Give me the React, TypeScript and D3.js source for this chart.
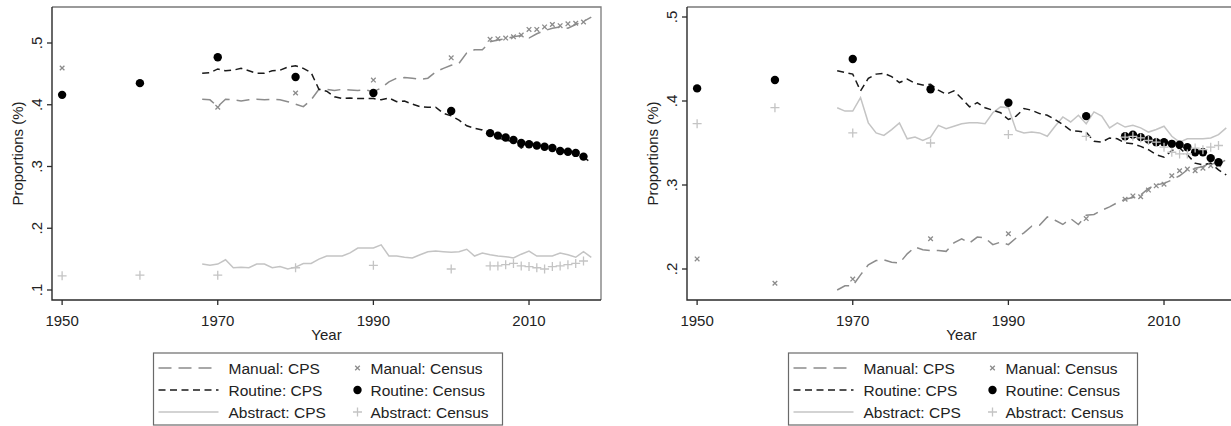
import * as d3 from "d3";

// CPS series run 1968-2018, census points at decennial years then 2005-2017
const cpsYears = d3.range(1968, 2019);
const censusYears = [1950, 1960, 1970, 1980, 1990, 2000, 2005, 2006, 2007, 2008, 2009, 2010, 2011, 2012, 2013, 2014, 2015, 2016, 2017];

// left panel
const manualCpsA = [
  0.409, 0.408, 0.397, 0.409, 0.408, 0.406, 0.408, 0.409, 0.408, 0.409, 0.408, 0.405, 0.401, 0.397, 0.408,
  0.425, 0.425, 0.423, 0.425, 0.424, 0.423, 0.424, 0.421, 0.427, 0.437, 0.443, 0.444, 0.443, 0.441, 0.443,
  0.453, 0.459, 0.464, 0.467, 0.484, 0.489, 0.489, 0.502, 0.505, 0.507, 0.51, 0.512, 0.508, 0.515, 0.52,
  0.524, 0.526, 0.524, 0.53, 0.535, 0.542,
];
const routineCpsA = [
  0.451, 0.452, 0.458, 0.455, 0.456, 0.459, 0.455, 0.451, 0.451, 0.455, 0.456, 0.461, 0.463, 0.459, 0.452,
  0.425, 0.422, 0.413, 0.41, 0.411, 0.41, 0.41, 0.41, 0.408, 0.411, 0.405, 0.406, 0.401, 0.397, 0.396,
  0.396, 0.386, 0.382, 0.375, 0.366, 0.362, 0.359, 0.351, 0.346, 0.343, 0.34, 0.33, 0.338, 0.335, 0.332,
  0.33, 0.327, 0.324, 0.32, 0.315, 0.306,
];
const abstractCpsA = [
  0.142, 0.14, 0.142, 0.149, 0.136, 0.137, 0.136, 0.142, 0.142, 0.136, 0.138, 0.134, 0.137, 0.143, 0.143,
  0.15, 0.155, 0.155, 0.155, 0.16, 0.168, 0.168, 0.168, 0.173, 0.155, 0.155, 0.153, 0.152, 0.157, 0.162,
  0.163, 0.162, 0.161, 0.162, 0.166, 0.155, 0.16, 0.157, 0.155, 0.154, 0.152, 0.158, 0.163, 0.155, 0.155,
  0.155, 0.16, 0.157, 0.153, 0.162, 0.153,
];
const manualCensusA = [
  0.4595, null, 0.396, 0.419, 0.44, 0.476, 0.506, 0.507, 0.508, 0.51, 0.513, 0.522, 0.522, 0.526, 0.53,
  0.528, 0.531, 0.532, 0.534,
];
const routineCensusA = [
  0.416, 0.435, 0.477, 0.445, 0.419, 0.39, 0.354, 0.35, 0.347, 0.343, 0.338, 0.336, 0.334, 0.332, 0.33,
  0.325, 0.324, 0.322, 0.316,
];
const abstractCensusA = [
  0.123, 0.124, 0.124, 0.136, 0.14, 0.134, 0.139, 0.139, 0.141, 0.143, 0.139, 0.138, 0.136, 0.134, 0.138,
  0.139, 0.141, 0.143, 0.147,
];

// right panel
const manualCpsB = [
  0.175, 0.18, 0.18, 0.193, 0.205, 0.21, 0.211, 0.208, 0.207, 0.218, 0.226, 0.223, 0.222, 0.222, 0.221,
  0.231, 0.236, 0.231, 0.238, 0.237, 0.229, 0.232, 0.229, 0.237, 0.243, 0.251, 0.252, 0.262, 0.258, 0.253,
  0.26, 0.253, 0.264, 0.265, 0.27, 0.274, 0.279, 0.283, 0.285, 0.288, 0.296, 0.3, 0.302, 0.306, 0.311,
  0.318, 0.32, 0.322, 0.326, 0.325, 0.33,
];
const routineCpsB = [
  0.436, 0.434, 0.432, 0.412, 0.427, 0.432, 0.433, 0.429, 0.422, 0.426, 0.421, 0.419, 0.42, 0.413, 0.408,
  0.412, 0.403, 0.393, 0.398, 0.392, 0.389, 0.386, 0.378, 0.382, 0.391, 0.389, 0.385, 0.383, 0.378, 0.372,
  0.365, 0.364, 0.363, 0.352, 0.351, 0.356, 0.355, 0.35, 0.349, 0.346, 0.342, 0.336, 0.333, 0.341, 0.344,
  0.336, 0.326, 0.324, 0.326, 0.318, 0.312,
];
const abstractCpsB = [
  0.392, 0.388, 0.388, 0.404, 0.374, 0.362, 0.359, 0.366, 0.374, 0.355, 0.357, 0.353, 0.357, 0.371, 0.367,
  0.37, 0.373, 0.374, 0.374, 0.373, 0.386, 0.393, 0.392, 0.365, 0.362, 0.363, 0.362, 0.358, 0.37, 0.381,
  0.375, 0.383, 0.373, 0.387, 0.382, 0.368, 0.374, 0.369, 0.371, 0.368, 0.363, 0.366, 0.37, 0.358, 0.351,
  0.355, 0.355, 0.355, 0.356, 0.36, 0.368,
];
const manualCensusB = [
  0.212, 0.183, 0.188, 0.236, 0.242, 0.26, 0.283, 0.287, 0.286, 0.294, 0.299, 0.301, 0.311, 0.317, 0.319,
  0.317, 0.32, 0.323, 0.324,
];
const routineCensusB = [
  0.415, 0.425, 0.45, 0.414, 0.398, 0.382, 0.358, 0.36, 0.357, 0.354, 0.351, 0.351, 0.349, 0.348, 0.345,
  0.339, 0.339, 0.332, 0.327,
];
const abstractCensusB = [
  0.373, 0.392, 0.362, 0.35, 0.36, 0.358, 0.357, 0.358, 0.356, 0.353, 0.351, 0.345, 0.339, 0.337, 0.337,
  0.344, 0.342, 0.345, 0.347,
];

const xTicks = [1950, 1970, 1990, 2010];
const yTicksA = [0.1, 0.2, 0.3, 0.4, 0.5];
const yTicksB = [0.2, 0.3, 0.4, 0.5];

const legendLines = ["Manual: CPS", "Routine: CPS", "Abstract: CPS"];
const legendMarks = ["Manual: Census", "Routine: Census", "Abstract: Census"];

const FONT = "Liberation Sans, Arial, sans-serif";
const MANUAL = "#8c8c8c";
const ROUTINE = "#1a1a1a";
const ABSTRACT = "#c4c4c4";
const DASH_MANUAL = "13 7";
const DASH_ROUTINE = "7 4.5";

const fmt = (v: number) => d3.format(".1f")(v).replace(/^0/, "");

function Cross({ x, y, r, color }: { x: number; y: number; r: number; color: string }) {
  return (
    <path
      d={`M${x - r},${y - r}L${x + r},${y + r}M${x - r},${y + r}L${x + r},${y - r}`}
      stroke={color}
      strokeWidth={1.3}
    />
  );
}

function Plus({ x, y, r, color }: { x: number; y: number; r: number; color: string }) {
  return (
    <path d={`M${x - r},${y}L${x + r},${y}M${x},${y - r}L${x},${y + r}`} stroke={color} strokeWidth={1.3} />
  );
}

interface PanelProps {
  left: number;
  yDomain: [number, number];
  yRange: [number, number];
  yTicks: number[];
  manualCps: number[];
  routineCps: number[];
  abstractCps: number[];
  manualCensus: (number | null)[];
  routineCensus: number[];
  abstractCensus: number[];
}

function Panel(p: PanelProps) {
  const top = 7;
  const bottom = 300;
  const right = p.left + 549;
  const x = d3.scaleLinear().domain([1948.7, 2019.25]).range([p.left, right]);
  const y = d3.scaleLinear().domain(p.yDomain).range(p.yRange);

  const line = (vals: number[]) =>
    d3
      .line<number>()
      .x((_, i) => x(cpsYears[i]))
      .y((d) => y(d))(vals) ?? "";

  const cx = (p.left + right) / 2;
  const legX = cx - 173;

  return (
    <g fontFamily={FONT}>
      {/* frame */}
      <path d={`M${p.left},${top}H${right}V${bottom}`} fill="none" stroke="#7a7a7a" strokeWidth={1.3} />

      {/* CPS lines */}
      <path d={line(p.abstractCps)} fill="none" stroke={ABSTRACT} strokeWidth={1.5} />
      <path d={line(p.manualCps)} fill="none" stroke={MANUAL} strokeWidth={1.5} strokeDasharray={DASH_MANUAL} />
      <path d={line(p.routineCps)} fill="none" stroke={ROUTINE} strokeWidth={1.5} strokeDasharray={DASH_ROUTINE} />

      {/* census markers */}
      {p.manualCensus.map((v, i) =>
        v == null ? null : <Cross key={"m" + i} x={x(censusYears[i])} y={y(v)} r={2.3} color={MANUAL} />
      )}
      {p.routineCensus.map((v, i) => (
        <circle key={"r" + i} cx={x(censusYears[i])} cy={y(v)} r={4.2} fill="#000" />
      ))}
      {p.abstractCensus.map((v, i) => (
        <Plus key={"a" + i} x={x(censusYears[i])} y={y(v)} r={4.5} color={ABSTRACT} />
      ))}

      {/* axes */}
      <path d={`M${p.left},${top}V${bottom}H${right}`} fill="none" stroke="#2a2a2a" strokeWidth={1.4} />
      {p.yTicks.map((t) => (
        <g key={t}>
          <line x1={p.left - 5} x2={p.left} y1={y(t)} y2={y(t)} stroke="#2a2a2a" strokeWidth={1.3} />
          <text
            transform={`translate(${p.left - 10},${y(t)}) rotate(-90)`}
            textAnchor="middle"
            fontSize={15}
            fill="#222"
          >
            {fmt(t)}
          </text>
        </g>
      ))}
      {xTicks.map((t) => (
        <g key={t}>
          <line x1={x(t)} x2={x(t)} y1={bottom} y2={bottom + 5} stroke="#2a2a2a" strokeWidth={1.3} />
          <text x={x(t)} y={bottom + 26} textAnchor="middle" fontSize={15} fill="#222">
            {t}
          </text>
        </g>
      ))}
      <text x={cx} y={340} textAnchor="middle" fontSize={15} fill="#222">
        Year
      </text>
      <text
        transform={`translate(${p.left - 29},${(top + bottom) / 2}) rotate(-90)`}
        textAnchor="middle"
        fontSize={15}
        fill="#222"
      >
        Proportions (%)
      </text>

      {/* legend */}
      <rect x={legX} y={353} width={349} height={72} fill="#fff" stroke="#6a6a6a" strokeWidth={1.2} />
      {legendLines.map((name, i) => {
        const ly = 368 + i * 22;
        const stroke = [MANUAL, ROUTINE, ABSTRACT][i];
        const dash = [DASH_MANUAL, DASH_ROUTINE, undefined][i];
        return (
          <g key={name}>
            <line x1={legX + 5} x2={legX + 65} y1={ly} y2={ly} stroke={stroke} strokeWidth={1.5} strokeDasharray={dash} />
            <text x={legX + 75} y={ly + 5.5} fontSize={15.5} fill="#222">
              {name}
            </text>
          </g>
        );
      })}
      {legendMarks.map((name, i) => {
        const ly = 368 + i * 22;
        const mx = legX + 204;
        return (
          <g key={name}>
            {i === 0 && <Cross x={mx} y={ly} r={2.3} color={MANUAL} />}
            {i === 1 && <circle cx={mx} cy={ly} r={4.2} fill="#000" />}
            {i === 2 && <Plus x={mx} y={ly} r={4.5} color={ABSTRACT} />}
            <text x={mx + 13} y={ly + 5.5} fontSize={15.5} fill="#222">
              {name}
            </text>
          </g>
        );
      })}
    </g>
  );
}

export default function App() {
  return (
    <svg
      width={1231}
      height={426}
      style={{ position: "absolute", left: 0, top: 0, background: "#fff" }}
    >
      <Panel
        left={52}
        yDomain={[0.1, 0.5]}
        yRange={[290, 43]}
        yTicks={yTicksA}
        manualCps={manualCpsA}
        routineCps={routineCpsA}
        abstractCps={abstractCpsA}
        manualCensus={manualCensusA}
        routineCensus={routineCensusA}
        abstractCensus={abstractCensusA}
      />
      <Panel
        left={687}
        yDomain={[0.2, 0.5]}
        yRange={[269, 17]}
        yTicks={yTicksB}
        manualCps={manualCpsB}
        routineCps={routineCpsB}
        abstractCps={abstractCpsB}
        manualCensus={manualCensusB}
        routineCensus={routineCensusB}
        abstractCensus={abstractCensusB}
      />
    </svg>
  );
}
